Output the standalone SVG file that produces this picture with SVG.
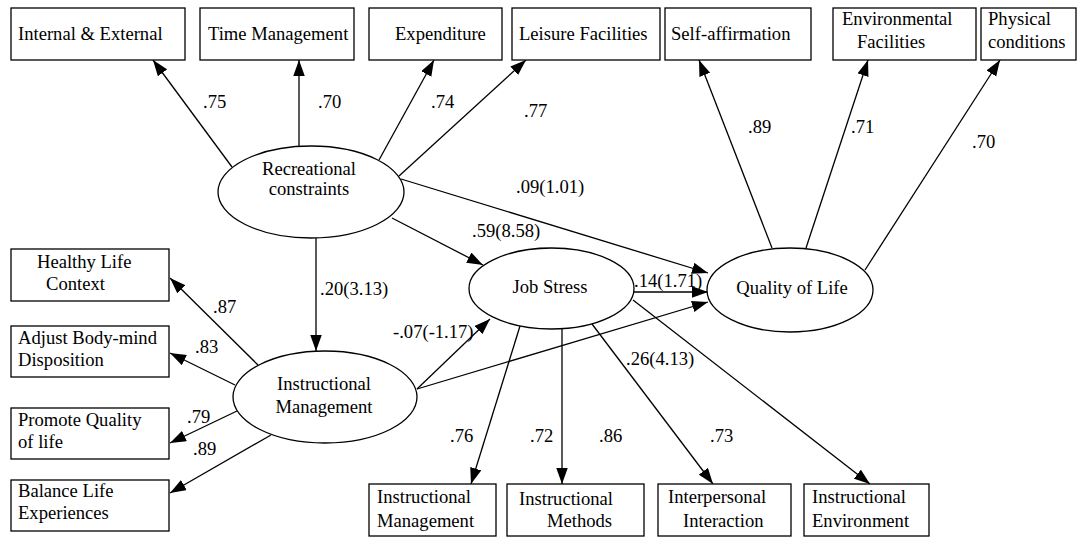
<svg xmlns="http://www.w3.org/2000/svg" width="1079" height="537" viewBox="0 0 1079 537">
  <style>
    text { font-family: "Liberation Serif", "Times New Roman", serif; font-size: 18.6px; fill: #000; }
    .box { fill: #fff; stroke: #000; stroke-width: 1.3; }
    .latent { fill: #fff; stroke: #000; stroke-width: 1.3; }
    .mid { text-anchor: middle; }
    #connectors line { stroke: #000; stroke-width: 1.3; marker-end: url(#arrow); }
  </style>
  <defs>
    <marker id="arrow" markerUnits="userSpaceOnUse" markerWidth="17" markerHeight="12" refX="16" refY="5.75" orient="auto">
      <path d="M0,0 L16,5.75 L0,11.5 z" fill="#000"/>
    </marker>
  </defs>
  <rect width="1079" height="537" fill="#fff"/>

  <!-- connectors -->
  <g id="connectors">
    <!-- Recreational constraints indicators -->
    <line x1="232" y1="167" x2="153" y2="60"/>
    <line x1="299" y1="147" x2="299" y2="60"/>
    <line x1="379" y1="160" x2="434" y2="60"/>
    <line x1="399" y1="176" x2="526" y2="60"/>
    <!-- structural paths -->
    <line x1="401" y1="179" x2="708" y2="273"/>
    <line x1="392" y1="218" x2="483" y2="265"/>
    <line x1="316" y1="238" x2="316" y2="351"/>
    <line x1="417" y1="389" x2="490" y2="319"/>
    <line x1="417" y1="389" x2="708" y2="302"/>
    <line x1="634" y1="292" x2="708" y2="292"/>
    <!-- Instructional Management indicators -->
    <line x1="258" y1="365" x2="170" y2="278"/>
    <line x1="235" y1="385" x2="170" y2="353"/>
    <line x1="237" y1="411" x2="170" y2="443"/>
    <line x1="271" y1="435" x2="170" y2="493"/>
    <!-- Job Stress indicators -->
    <line x1="520" y1="326" x2="471" y2="484"/>
    <line x1="562" y1="329" x2="562" y2="484"/>
    <line x1="592" y1="324" x2="713" y2="484"/>
    <line x1="633" y1="300" x2="870" y2="484"/>
    <!-- Quality of Life indicators -->
    <line x1="772" y1="248" x2="699" y2="60"/>
    <line x1="806" y1="248" x2="868" y2="60"/>
    <line x1="865" y1="270" x2="1000" y2="60"/>
  </g>

  <!-- path coefficients -->
  <g id="labels">
    <text x="203" y="108">.75</text>
    <text x="318" y="108">.70</text>
    <text x="431" y="108">.74</text>
    <text x="524" y="117">.77</text>
    <text x="516" y="193">.09(1.01)</text>
    <text x="472" y="237">.59(8.58)</text>
    <text x="320" y="295">.20(3.13)</text>
    <text x="213" y="313">.87</text>
    <text x="195" y="353">.83</text>
    <text x="187" y="423">.79</text>
    <text x="193" y="455">.89</text>
    <text x="393" y="338">-.07(-1.17)</text>
    <text x="634" y="287">.14(1.71)</text>
    <text x="450" y="442">.76</text>
    <text x="530" y="442">.72</text>
    <text x="599" y="442">.86</text>
    <text x="626" y="365">.26(4.13)</text>
    <text x="710" y="442">.73</text>
    <text x="748" y="133">.89</text>
    <text x="851" y="133">.71</text>
    <text x="972" y="148">.70</text>
  </g>

  <!-- latent variables -->
  <g id="recreational-constraints">
    <ellipse class="latent" cx="311" cy="192" rx="93" ry="46"/>
    <text class="mid" x="309" y="175">Recreational</text>
    <text class="mid" x="309" y="195">constraints</text>
  </g>
  <g id="instructional-management-latent">
    <ellipse class="latent" cx="325" cy="397" rx="92" ry="46"/>
    <text class="mid" x="324" y="390">Instructional</text>
    <text class="mid" x="324" y="413">Management</text>
  </g>
  <g id="job-stress">
    <ellipse class="latent" cx="551.5" cy="288.5" rx="82.5" ry="40.5"/>
    <text class="mid" x="550" y="293">Job Stress</text>
  </g>
  <g id="quality-of-life">
    <ellipse class="latent" cx="790" cy="290" rx="83" ry="42"/>
    <text class="mid" x="792" y="294">Quality of Life</text>
  </g>

  <!-- top indicators -->
  <g id="internal-external">
    <rect class="box" x="11" y="8" width="174" height="52"/>
    <text x="18" y="40">Internal &amp; External</text>
  </g>
  <g id="time-management">
    <rect class="box" x="200" y="8" width="154" height="52"/>
    <text x="208" y="40">Time Management</text>
  </g>
  <g id="expenditure">
    <rect class="box" x="369" y="8" width="133" height="52"/>
    <text x="395" y="40">Expenditure</text>
  </g>
  <g id="leisure-facilities">
    <rect class="box" x="512" y="8" width="148" height="52"/>
    <text x="519" y="40">Leisure Facilities</text>
  </g>
  <g id="self-affirmation">
    <rect class="box" x="665" y="8" width="146" height="52"/>
    <text x="671" y="40">Self-affirmation</text>
  </g>
  <g id="environmental-facilities">
    <rect class="box" x="833" y="8" width="143" height="52"/>
    <text x="842" y="25">Environmental</text>
    <text x="857" y="48">Facilities</text>
  </g>
  <g id="physical-conditions">
    <rect class="box" x="981" y="8" width="95" height="52"/>
    <text x="988" y="25">Physical</text>
    <text x="988" y="48">conditions</text>
  </g>

  <!-- left indicators -->
  <g id="healthy-life-context">
    <rect class="box" x="11" y="249" width="158" height="52"/>
    <text x="37" y="268">Healthy Life</text>
    <text x="46" y="290">Context</text>
  </g>
  <g id="adjust-body-mind">
    <rect class="box" x="11" y="326" width="158" height="51"/>
    <text x="18" y="344">Adjust Body-mind</text>
    <text x="18" y="366">Disposition</text>
  </g>
  <g id="promote-quality">
    <rect class="box" x="11" y="408" width="158" height="51"/>
    <text x="18" y="426">Promote Quality</text>
    <text x="18" y="448">of life</text>
  </g>
  <g id="balance-life">
    <rect class="box" x="11" y="480" width="158" height="51"/>
    <text x="18" y="497">Balance Life</text>
    <text x="18" y="519">Experiences</text>
  </g>

  <!-- bottom indicators -->
  <g id="instructional-management-box">
    <rect class="box" x="369" y="484" width="127" height="52"/>
    <text x="377" y="503">Instructional</text>
    <text x="377" y="527">Management</text>
  </g>
  <g id="instructional-methods">
    <rect class="box" x="507" y="484" width="137" height="52"/>
    <text x="519" y="505">Instructional</text>
    <text x="547" y="527">Methods</text>
  </g>
  <g id="interpersonal-interaction">
    <rect class="box" x="658" y="484" width="133" height="52"/>
    <text x="668" y="503">Interpersonal</text>
    <text x="683" y="527">Interaction</text>
  </g>
  <g id="instructional-environment">
    <rect class="box" x="804" y="484" width="125" height="52"/>
    <text x="812" y="503">Instructional</text>
    <text x="812" y="527">Environment</text>
  </g>
</svg>
